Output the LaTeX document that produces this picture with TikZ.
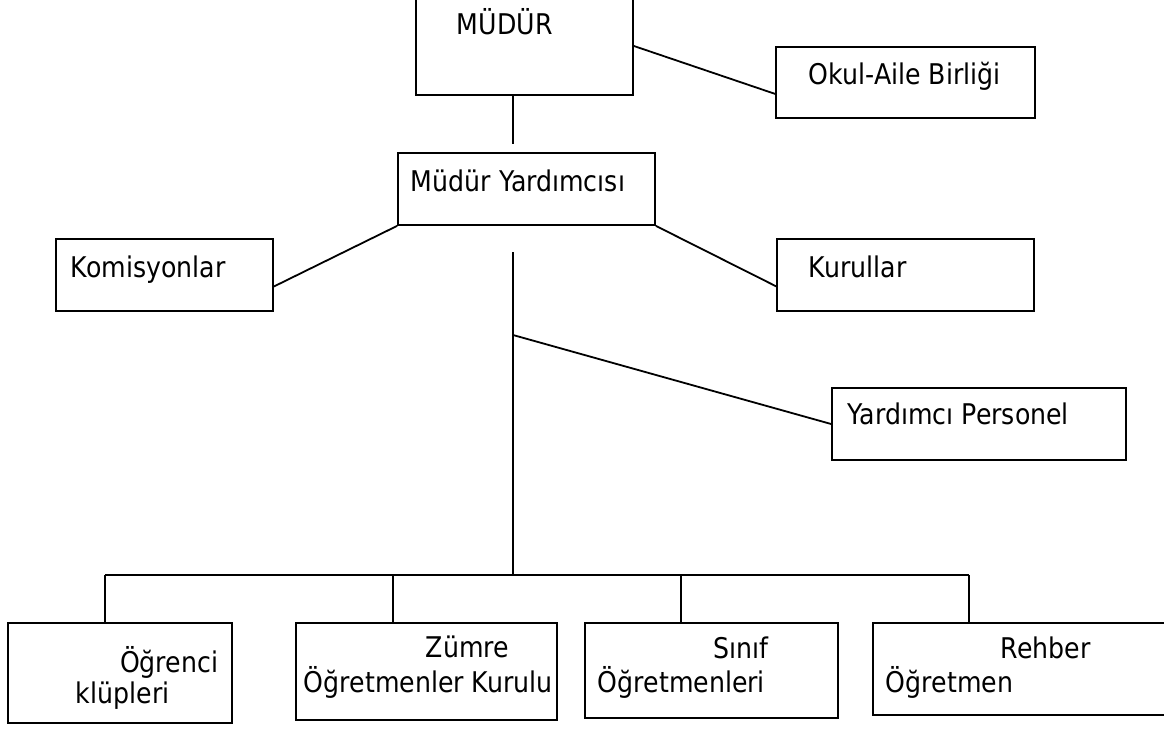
\documentclass[tikz,border=0pt]{standalone}
\usepackage{fontspec}
\setmainfont{DejaVu Sans}[FakeStretch=0.885]
\usepackage{tikz}
\usetikzlibrary{calc}
\usetikzlibrary{positioning}

\begin{document}
\begin{tikzpicture}[x=1pt,y=-1pt,line width=1.8pt,
   box/.style={draw,rectangle,inner sep=0pt},
   lbl/.style={anchor=base west,inner sep=0pt,font=\fontsize{28.5}{33}\selectfont}]
\useasboundingbox (0,0) rectangle (1164,730);
% kutular
\node[box,minimum width=217pt,minimum height=98pt] (mudur) at (524.5,46) {};
\node[box,minimum width=259pt,minimum height=71pt] (okul) at (905.5,82.5) {};
\node[box,minimum width=257pt,minimum height=72pt] (yard) at (526.5,189) {};
\node[box,minimum width=217pt,minimum height=72pt] (komis) at (164.5,275) {};
\node[box,minimum width=257pt,minimum height=72pt] (kurul) at (905.5,275) {};
\node[box,minimum width=294pt,minimum height=72pt] (ypers) at (979,424) {};
\node[box,minimum width=224pt,minimum height=100pt] (ogr) at (120,673) {};
\node[box,minimum width=261pt,minimum height=97pt] (zum) at (426.5,671.5) {};
\node[box,minimum width=253pt,minimum height=95pt] (sinif) at (711.5,670.5) {};
\node[box,minimum width=297pt,minimum height=92pt] (rehber) at (1021.5,669) {};
% yazilar
\node[lbl] (mudur-t) at (456,35) {MÜDÜR};
\node[lbl] (okul-t) at (808,85) {Okul-Aile Birliği};
\node[lbl] (yard-t) at (410,192) {Müdür Yardımcısı};
\node[lbl] (komis-t) at (70,277) {Komisyonlar};
\node[lbl] (kurul-t) at (808,277) {Kurullar};
\node[lbl] (ypers-t) at (847,424) {Yardımcı Personel};
\node[lbl,anchor=base east] (ogr-a) at (219,672) {Öğrenci};
\node[lbl] (ogr-b) at (75,703) {klüpleri};
\node[lbl] (zum-a) at (425,657) {Zümre};
\node[lbl] (zum-b) at (303,692) {Öğretmenler Kurulu};
\node[lbl] (sinif-a) at (713,658) {Sınıf};
\node[lbl] (sinif-b) at (597,692) {Öğretmenleri};
\node[lbl] (rehber-a) at (1000,658) {Rehber};
\node[lbl] (rehber-b) at (885,692) {Öğretmen};
% baglantilar
\coordinate (mtail) at (513,144);
\coordinate (stop) at (513,252);
\coordinate (split) at (513,335);
\coordinate (sbot) at (513,575);
\draw (mudur.south -| mtail) -- (mtail);
\draw (mudur.east) -- (okul.185.5);
\draw (yard.south west) -- (komis.354.2);
\draw (yard.south east) -- (kurul.185.3);
\draw (stop) -- (sbot);
\draw (split) -- (ypers.west);
\draw (105,575) -- (969,575);
\foreach \n/\x in {ogr/105,zum/393,sinif/681,rehber/969}
  \draw (\x,575) -- (\x,575 |- \n.north);
\end{tikzpicture}
\end{document}
